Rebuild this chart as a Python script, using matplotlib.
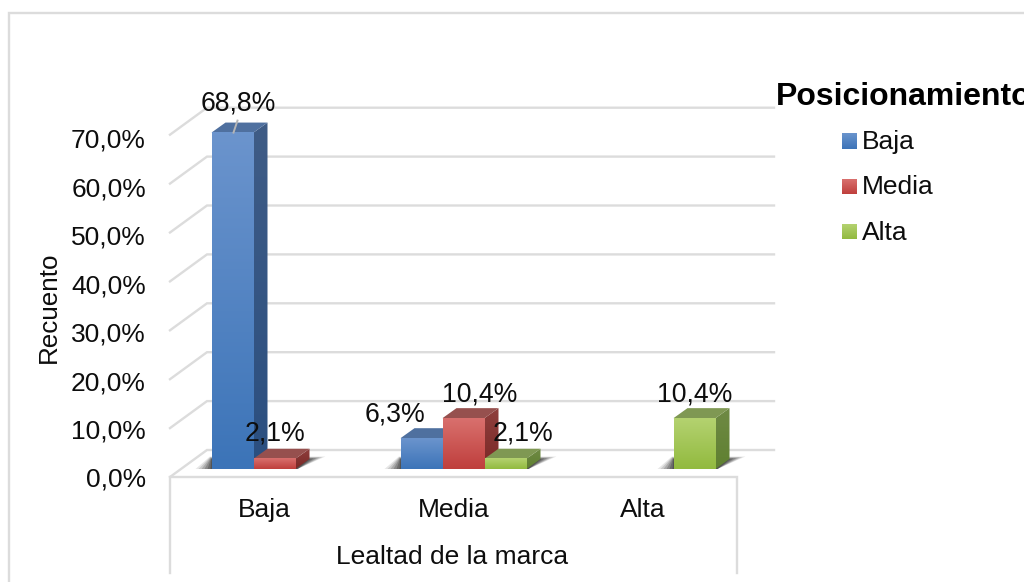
import numpy as np
import matplotlib
matplotlib.use("Agg")
import matplotlib.pyplot as plt
from matplotlib.patches import Polygon

plt.rcParams['font.family'] = ['Liberation Sans', 'DejaVu Sans']

categories = ["Baja", "Media", "Alta"]
series_names = ["Baja", "Media", "Alta"]
baja_values = [68.8, 6.3, 0.0]
media_values = [2.1, 10.4, 0.0]
alta_values = [0.0, 2.1, 10.4]
y_ticks = [0, 10, 20, 30, 40, 50, 60, 70]
x_title = "Lealtad de la marca"
y_title = "Recuento"
legend_title = "Posicionamiento"

W, H = 1024, 582
PX_X = 189.0   # px per category
PX_Y = 4.89    # px per percent
X0 = 264.5     # px of category 0 centre
Y0 = 477.0     # px of 0 %

fig = plt.figure(figsize=(W / 100, H / 100), dpi=100, facecolor="white")
ax = fig.add_axes([0, 0, 1, 1])
ax.axis("off")

def dx(px):
    return px / PX_X
def dy(px):
    return px / PX_Y
def fx(px):
    return (px - X0) / PX_X
def fy(py):
    return (Y0 - py) / PX_Y

GRID = "#dcdcdc"
LW = 1.7
TXT = "#0d0d0d"
left, right = -0.5, 2.5
DX, DY = dx(37), dy(27)

# frame
ax.plot([fx(9.5), fx(9.5), fx(W)], [fy(H), fy(13), fy(13)], color=GRID, lw=LW, zorder=1,
        solid_joinstyle="miter")

# grid on wall + side wall
for t in y_ticks:
    ax.plot([left, left + DX, right + DX], [t, t + DY, t + DY], color=GRID, lw=LW, zorder=1,
            solid_joinstyle="miter")
    ax.text(left - dx(24), t * 4.84 / PX_Y - dy(2.8), f"{t},0%", ha="right", va="center", fontsize=19,
            color=TXT, zorder=6)

# multilevel axis box
ax.plot([left, left, right, right], [dy(-96), 0, 0, dy(-96)], color=GRID, lw=LW, zorder=1,
        solid_joinstyle="miter")

for i, c in enumerate(categories):
    ax.text(i, dy(-33), c, ha="center", va="center", fontsize=19, color=TXT)
ax.text(1 - dx(1), dy(-80), x_title, ha="center", va="center", fontsize=19, color=TXT)
ax.text(fx(49), fy(307), y_title, rotation=90, ha="center", va="center", fontsize=18.7, color=TXT)

# bars
BW = 42.0 / PX_X
FX = 10.0 / PX_X    # floor offset of bar front
FY = dy(8)
BDX, BDY = dx(14), dy(10)
colors = {
    0: dict(top="#6b94cd", bot="#3c74b8", cap="#4f709f", side0="#3f5c86", side1="#2b4f80"),
    1: dict(top="#d9706e", bot="#bf3f3c", cap="#96504e", side0="#8f3f3d", side1="#7a2826"),
    2: dict(top="#b4d270", bot="#92ba3f", cap="#7f9853", side0="#6f8a45", side1="#5f8030"),
}

def vgrad(c0, c1, n=64):
    a = np.array(matplotlib.colors.to_rgb(c0))
    b = np.array(matplotlib.colors.to_rgb(c1))
    return (a + (b - a) * np.linspace(0, 1, n)[:, None])[:, None, :]

def shade(x0, x1, y0, y1, c0, c1, z, clip=None):
    im = ax.imshow(vgrad(c0, c1), extent=[x0, x1, y0, y1], origin="upper", aspect="auto",
                   zorder=z, interpolation="bilinear")
    if clip is not None:
        clip.set_transform(ax.transData)
        im.set_clip_path(clip)

series = [baja_values, media_values, alta_values]
for ci in range(len(categories)):
    vals = [s[ci] for s in series]
    present = [k for k, v in enumerate(vals) if v > 0]
    # soft shadow under each bar group
    xa = ci - 1.5 * BW + FX + present[0] * BW
    xb = ci - 1.5 * BW + FX + (present[-1] + 1) * BW
    for g, h, a in zip([16, 13, 10, 7, 4, 1], [12.5, 12, 11.5, 11, 10.5, 10],
                       [0.10, 0.14, 0.18, 0.22, 0.26, 0.30]):
        ax.add_patch(Polygon([(xa - dx(g), FY), (xb + dx(2), FY),
                              (xb + BDX + dx(g), FY + dy(h)),
                              (xa - dx(g * 0.1), FY + dy(h))],
                             closed=True, fc="#1a1a1a", ec="none", alpha=a, zorder=2))
    for k in present:
        v = vals[k]
        x0 = ci - 1.5 * BW + FX + k * BW
        x1 = x0 + BW
        base = FY
        top = base + v
        st = colors[k]
        z = 3 + 0.1 * k
        # side face
        shade(x1, x1 + BDX, base, top + BDY, st["side0"], st["side1"], z,
              Polygon([(x1, base), (x1 + BDX, base + BDY), (x1 + BDX, top + BDY), (x1, top)], closed=True))
        # cap
        ax.add_patch(Polygon([(x0, top), (x1, top), (x1 + BDX, top + BDY), (x0 + BDX, top + BDY)],
                             closed=True, fc=st["cap"], ec="none", zorder=z))
        # front
        shade(x0, x1, base, top, st["top"], st["bot"], z + 0.05)

# data labels
def lab(ci, k, ox, oy):
    v = series[k][ci]
    xc = ci - 1.5 * BW + FX + (k + 0.5) * BW
    ax.text(xc + dx(ox), FY + v + dy(oy), f"{v}%".replace(".", ","), ha="center", va="center",
            fontsize=19.2, color=TXT, zorder=7)

lab(0, 0, 5.5, 29)
lab(0, 1, 0, 25)
lab(1, 0, -26, 24)
lab(1, 1, 16.5, 24)
lab(1, 2, 18, 25)
lab(2, 2, 0.5, 24)

# leader line for the tall bar
xc0 = -1.5 * BW + FX + 0.5 * BW
ax.plot([xc0 + dx(1), xc0 + dx(5)], [FY + baja_values[0], FY + baja_values[0] + dy(12)],
        color="#b5b5b5", lw=1.4, zorder=6)

# legend
ax.text(fx(776), fy(97), legend_title, ha="left", va="center", fontsize=23,
        fontweight="bold", color="black")
for k, (name, py) in enumerate(zip(series_names, [142, 187, 232])):
    st = colors[k]
    shade(fx(842), fx(857), fy(py + 7.5), fy(py - 7.5), st["top"], st["bot"], 3)
    ax.text(fx(862), fy(py + 0.5), name, ha="left", va="center", fontsize=19, color=TXT)

ax.set_xlim(fx(0), fx(W))
ax.set_ylim(fy(H), fy(0))
fig.savefig("out.png", dpi=100, facecolor="white")
